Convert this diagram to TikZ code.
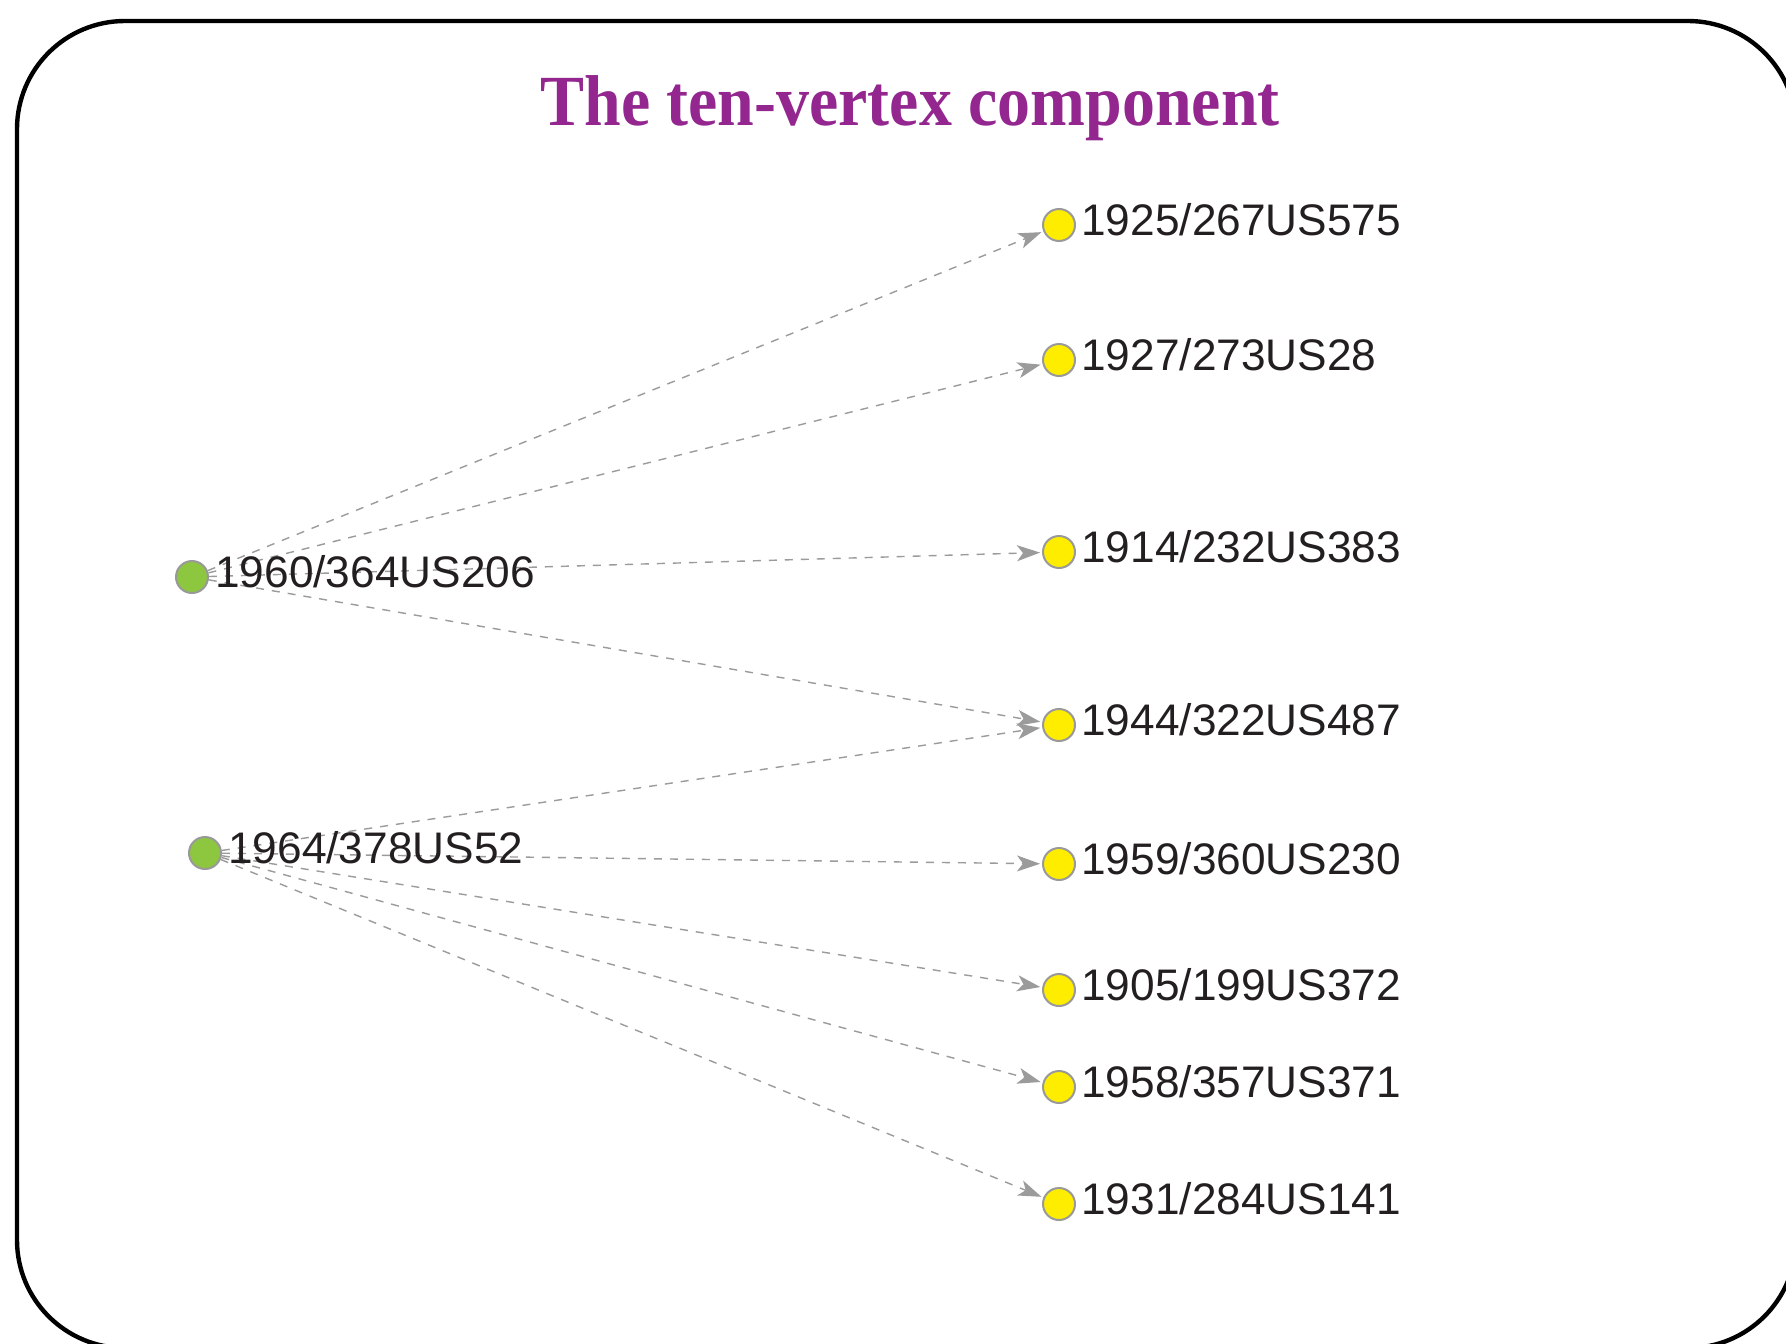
\documentclass[tikz,border=0pt]{standalone}
\usepackage{fontspec}
\setmainfont{Liberation Serif}
\newfontfamily\lblfont{Liberation Sans}
\usetikzlibrary{arrows.meta}
\definecolor{titlepurple}{HTML}{93278F}
\definecolor{nodegreen}{HTML}{8DC63F}
\definecolor{nodeyellow}{HTML}{FFED00}
\definecolor{nodeborder}{HTML}{999999}
\definecolor{edgegray}{HTML}{9B9B9B}
\definecolor{txt}{HTML}{231F20}
\tikzset{
  vert/.style={circle, draw=nodeborder, line width=1pt, minimum size=16pt, inner sep=0pt},
  gvert/.style={vert, fill=nodegreen},
  yvert/.style={vert, fill=nodeyellow},
  lbl/.style={anchor=base west, inner sep=0pt, text=txt, font=\lblfont\fontsize{22.1pt}{26pt}\selectfont},
  edge/.style={draw=edgegray, line width=0.7pt, dash pattern=on 4pt off 4pt,
    -{Stealth[length=11.5pt,width=8pt,inset=3pt]}, shorten >=1pt},
  frame/.style={draw=black, line width=2.2pt, rounded corners=54pt}
}
\begin{document}
\begin{tikzpicture}[x=0.5pt,y=-0.5pt]
\useasboundingbox (0,0) rectangle (1786,1343);
\fill[white] (0,0) rectangle (1786,1343);
\draw[frame] (17,21) rectangle (1796,1348);
\node[anchor=base, inner sep=0pt, text=titlepurple, font=\fontsize{36pt}{40pt}\selectfont\bfseries] (title) at (910,126) {\scalebox{0.915}[1]{The ten-vertex component}};

% green nodes
\node[gvert] (g1) at (192,577) {};
\node[gvert] (g2) at (205,853) {};
% yellow nodes
\node[yvert] (y1) at (1059,225) {};
\node[yvert] (y2) at (1059,360) {};
\node[yvert] (y3) at (1059,552) {};
\node[yvert] (y4) at (1059,725) {};
\node[yvert] (y5) at (1059,864) {};
\node[yvert] (y6) at (1059,990) {};
\node[yvert] (y7) at (1059,1087) {};
\node[yvert] (y8) at (1059,1204) {};

% edges
\draw[edge] (g1) -- (y1);
\draw[edge] (g1) -- (y2);
\draw[edge] (g1) -- (y3);
\draw[edge] (g1) -- (y4);
\draw[edge] (g2) -- (y4);
\draw[edge] (g2) -- (y5);
\draw[edge] (g2) -- (y6);
\draw[edge] (g2) -- (y7);
\draw[edge] (g2) -- (y8);

% labels
\node[lbl] (lg1) at (215,587) {1960/364US206};
\node[lbl] (lg2) at (228,863) {1964/378US52};
\node[lbl] (l1) at (1081,235) {1925/267US575};
\node[lbl] (l2) at (1081,370) {1927/273US28};
\node[lbl] (l3) at (1081,562) {1914/232US383};
\node[lbl] (l4) at (1081,735) {1944/322US487};
\node[lbl] (l5) at (1081,874) {1959/360US230};
\node[lbl] (l6) at (1081,1000) {1905/199US372};
\node[lbl] (l7) at (1081,1097) {1958/357US371};
\node[lbl] (l8) at (1081,1214) {1931/284US141};
\end{tikzpicture}
\end{document}
